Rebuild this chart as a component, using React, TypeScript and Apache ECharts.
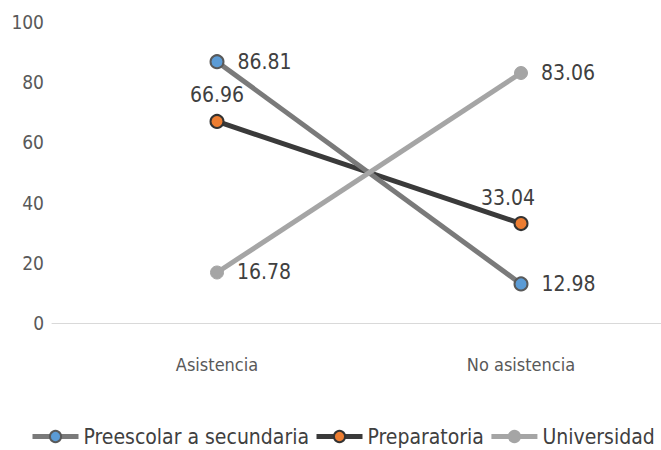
import React, { useEffect, useRef } from "react";
import * as echarts from "echarts";

const categories = ["Asistencia", "No asistencia"];
const preescolar = [86.81, 12.98];
const preparatoria = [66.96, 33.04];
const universidad = [16.78, 83.06];
const yTicks = [0, 20, 40, 60, 80, 100];

const FONT = "'DejaVu Sans Condensed', 'DejaVu Sans', sans-serif";

const toPoints = (vals: number[]) => vals.map((v, i) => [i, v]);

export default function App() {
  const ref = useRef<HTMLDivElement>(null);
  useEffect(() => {
    document.body.style.margin = "0";
    if (!ref.current) return;
    const chart = echarts.init(ref.current, undefined, { renderer: "svg" });
    const labelStyle = { fontFamily: FONT, fontSize: 21, color: "#404040" };
    const catIdx = categories.map((_, i) => i);
    const fmt = (p: any) => p.value[1].toFixed(2);
    chart.setOption({
      animation: false,
      textStyle: { fontFamily: FONT },
      grid: { left: 52, right: 0, top: 22, bottom: 127 },
      legend: {
        top: 426,
        left: 30,
        width: 631,
        padding: 0,
        itemWidth: 46,
        itemHeight: 14,
        itemGap: 5,
        lineStyle: { width: 5 },
        textStyle: { fontFamily: FONT, fontSize: 21, color: "#404040" },
        data: ["Preescolar a secundaria", "Preparatoria", "Universidad"],
      },
      xAxis: {
        type: "value",
        min: -0.5428,
        max: 1.4605,
        splitLine: { show: false },
        axisLine: { show: true, onZero: false, lineStyle: { color: "#d9d9d9", width: 1 } },
        axisTick: { show: false },
        axisLabel: {
          customValues: catIdx,
          formatter: (v: number) => categories[Math.round(v)] ?? "",
          fontFamily: FONT,
          fontSize: 18,
          color: "#595959",
          margin: 32,
        },
      },
      yAxis: {
        type: "value",
        min: yTicks[0],
        max: yTicks[yTicks.length - 1],
        interval: 20,
        splitLine: { show: false },
        axisLine: { show: false },
        axisTick: { show: false },
        axisLabel: { fontFamily: FONT, fontSize: 19, color: "#595959", margin: 8 },
      },
      series: [
        {
          name: "Preescolar a secundaria",
          type: "line",
          data: toPoints(preescolar),
          symbol: "circle",
          symbolSize: 13,
          lineStyle: { color: "#7a7a7a", width: 5 },
          itemStyle: { color: "#5b9bd5", borderColor: "#595959", borderWidth: 2 },
          label: { show: true, position: "right", distance: 13, ...labelStyle, formatter: fmt },
          z: 3,
        },
        {
          name: "Preparatoria",
          type: "line",
          data: toPoints(preparatoria).map((pt, i) =>
            i === 1 ? { value: pt, label: { offset: [-13, 0] } } : { value: pt }
          ),
          symbol: "circle",
          symbolSize: 13,
          lineStyle: { color: "#3a3a3a", width: 5 },
          itemStyle: { color: "#ed7d31", borderColor: "#333333", borderWidth: 2 },
          label: { show: true, position: "top", distance: 8, ...labelStyle, formatter: fmt },
          z: 2,
        },
        {
          name: "Universidad",
          type: "line",
          data: toPoints(universidad),
          symbol: "circle",
          symbolSize: 13,
          lineStyle: { color: "#a5a5a5", width: 5 },
          itemStyle: { color: "#a5a5a5", borderColor: "#a5a5a5", borderWidth: 1 },
          label: { show: true, position: "right", distance: 13, ...labelStyle, formatter: fmt },
          z: 4,
        },
      ],
    });
    return () => chart.dispose();
  }, []);
  return <div ref={ref} style={{ width: 661, height: 450 }} />;
}
